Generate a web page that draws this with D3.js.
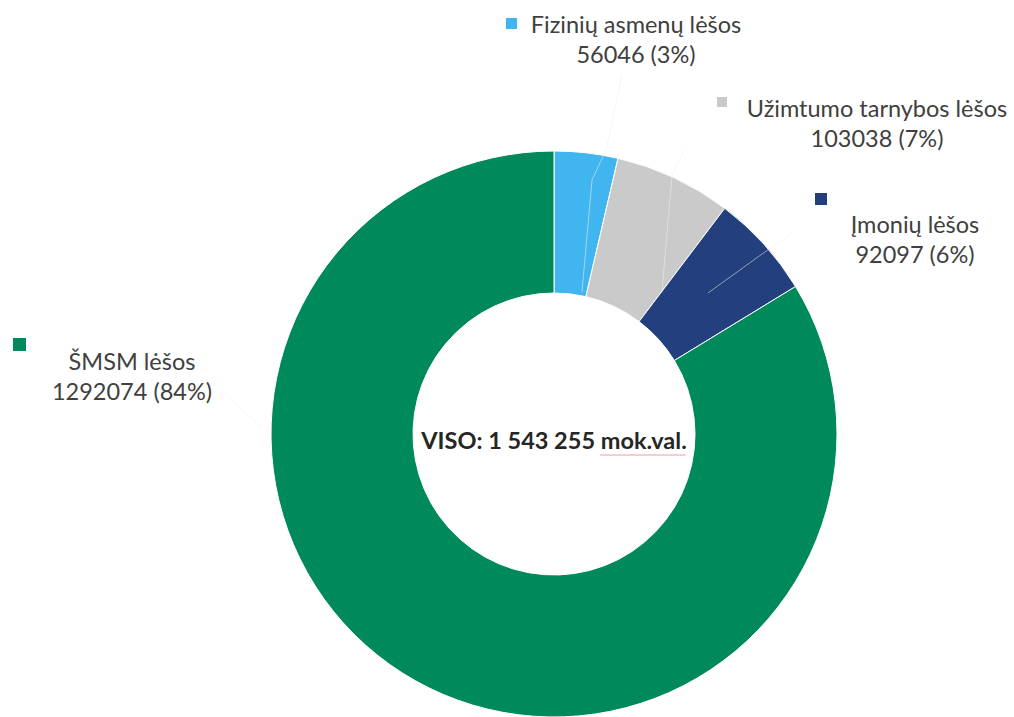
<!DOCTYPE html>
<html>
<head>
<meta charset="utf-8">
<script src="https://cdn.jsdelivr.net/npm/d3@7"></script>
<style>
  html, body { margin: 0; padding: 0; background: #fff; }
  svg { display: block; }
  text { font-family: Lato, "Noto Sans", sans-serif; fill: #404040; }
</style>
</head>
<body>
<svg id="chart" width="1014" height="717"></svg>
<script>
// ---- data ----
const categories = ["Fizinių asmenų lėšos", "Užimtumo tarnybos lėšos", "Įmonių lėšos", "ŠMSM lėšos"];
const values = [56046, 103038, 92097, 1292074];
const percents = ["3%", "7%", "6%", "84%"];
const colors = ["#41b5ef", "#cacaca", "#243f7d", "#008a5b"];
const totalLabel = "VISO: 1 543 255 ";
const totalUnit = "mok.val.";

// ---- layout ----
const cx = 554, cy = 434, rOuter = 283, rInner = 141;
const fs = 23.5, lineGap = 30;
const labelPos = [
  { x: 636, y: 33, sq: [506, 18, 11], leader: [[582, 292], [592, 180], [606, 150], [622, 75]] },
  { x: 877, y: 117, sq: [717, 97, 10], leader: [[662, 292], [672, 175], [684, 150]] },
  { x: 915, y: 233, sq: [815, 193, 12], leader: [[708, 293], [762, 254], [790, 235]] },
  { x: 132, y: 370, sq: [13, 338, 13], leader: [[230, 398], [262, 428]] }
];

const svg = d3.select("#chart");
const g = svg.append("g").attr("transform", `translate(${cx},${cy})`);

const pie = d3.pie().sort(null).value(d => d);
const arcs = pie(values);
const arc = d3.arc().innerRadius(rInner).outerRadius(rOuter);

g.selectAll("path.slice")
  .data(arcs)
  .join("path")
  .attr("class", "slice")
  .attr("d", arc)
  .attr("fill", d => colors[d.index])
  .attr("stroke", "#ffffff")
  .attr("stroke-width", 1);

// faint leader lines
const line = d3.line();
labelPos.forEach(p => {
  svg.append("path")
    .attr("d", line(p.leader))
    .attr("fill", "none")
    .attr("stroke", "#eeeeee")
    .attr("stroke-opacity", 0.55)
    .attr("stroke-width", 1);
});

// labels
categories.forEach((c, i) => {
  const p = labelPos[i];
  svg.append("rect")
    .attr("x", p.sq[0]).attr("y", p.sq[1])
    .attr("width", p.sq[2]).attr("height", p.sq[2])
    .attr("fill", colors[i]);
  const t = svg.append("text")
    .attr("text-anchor", "middle")
    .attr("font-size", fs);
  t.append("tspan").attr("x", p.x).attr("y", p.y).text(c);
  t.append("tspan").attr("x", p.x).attr("y", p.y + lineGap).text(`${values[i]} (${percents[i]})`);
});

// center total label
const ct = svg.append("text")
  .attr("x", cx).attr("y", 449)
  .attr("text-anchor", "middle")
  .attr("font-size", 23.5)
  .attr("font-weight", "bold")
  .style("fill", "#262626");
ct.append("tspan").text(totalLabel);
ct.append("tspan").text(totalUnit);

// spell-check style underline under unit
const bb = ct.node().getBBox();
const unitStart = ct.node().getSubStringLength(0, totalLabel.length);
const unitLen = ct.node().getSubStringLength(totalLabel.length, totalUnit.length);
svg.append("line")
  .attr("x1", bb.x + unitStart).attr("x2", bb.x + unitStart + unitLen)
  .attr("y1", 455).attr("y2", 455)
  .attr("stroke", "#e8a0a8").attr("stroke-width", 1.2);
</script>
</body>
</html>
